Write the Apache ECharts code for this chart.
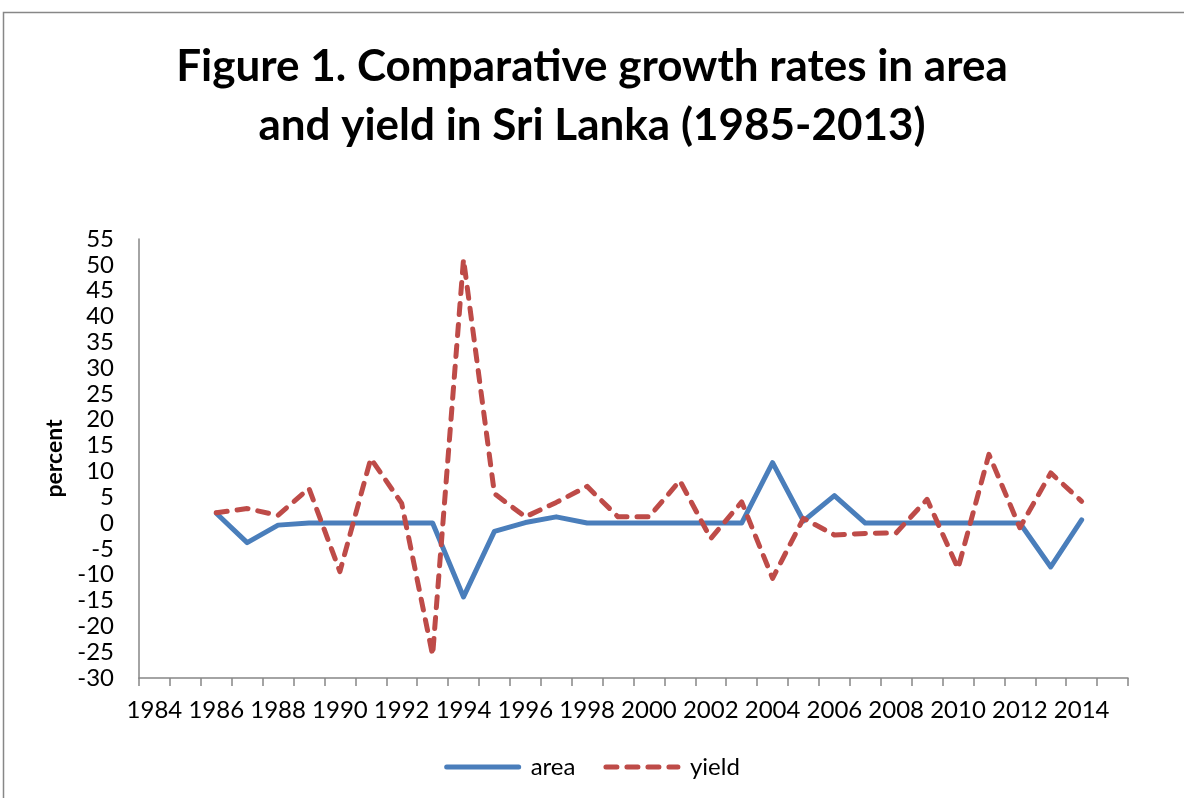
<!DOCTYPE html>
<html>
<head>
<meta charset="utf-8">
<script src="https://cdn.jsdelivr.net/npm/echarts@6/dist/echarts.min.js"></script>
<style>
  html, body { margin: 0; padding: 0; background: #fff; overflow: hidden; }
  #chart { width: 1184px; height: 798px; }
</style>
</head>
<body>
<div id="chart"></div>
<script>
var years = [];
for (var y = 1984; y <= 2015; y++) years.push(String(y));

// growth rates, 1986-2014 (null where no data)
var area = [null, null,
    1.9, -3.8, -0.4, 0, 0, 0, 0, 0, -14.3, -1.6, 0.1, 1.2, 0, 0, 0, 0, 0, 0,
    11.7, 0.4, 5.3, 0, 0, 0, 0, 0, 0, -8.5, 0.6, null];
var yieldRate = [null, null,
    2.0, 2.8, 1.5, 6.7, -9.4, 12.5, 3.8, -25.6, 51.1, 5.7, 1.2, 4.0, 7.1, 1.2, 1.2, 8.2, -3.0, 4.1,
    -10.7, 0.9, -2.3, -2.0, -1.9, 4.6, -8.8, 13.3, -0.9, 9.7, 4.2, null];

var font = 'Lato';
var dom = document.getElementById('chart');
var myChart = echarts.init(dom);

var option = {
    backgroundColor: '#fff',
    animation: false,
    title: {
        text: 'Figure 1. Comparative growth rates in area\nand yield in Sri Lanka (1985-2013)',
        left: 'center',
        top: 32,
        textStyle: {
            fontFamily: font,
            fontWeight: 'bold',
            fontSize: 44,
            lineHeight: 59,
            color: '#000'
        }
    },
    graphic: [{
        type: 'rect',
        shape: { x: 3.5, y: 12.5, width: 1300, height: 900 },
        style: { fill: 'none', stroke: '#878787', lineWidth: 1.5 },
        silent: true
    }],
    legend: {
        bottom: 14,
        left: 'center',
        itemWidth: 72,
        itemHeight: 14,
        itemGap: 28,
        itemStyle: { opacity: 0 },
        lineStyle: { width: 5 },
        textStyle: { fontFamily: font, fontSize: 24, color: '#000', padding: [0, 0, 0, 7] },
        data: ['area', 'yield']
    },
    grid: { left: 139, right: 56, top: 239, bottom: 120 },
    xAxis: {
        type: 'category',
        data: years,
        boundaryGap: true,
        axisLine: { onZero: false, lineStyle: { color: '#868686', width: 1.5 } },
        axisTick: { show: true, length: 8, interval: 0, lineStyle: { color: '#868686', width: 1.5 } },
        axisLabel: { interval: 1, margin: 20, fontFamily: font, fontSize: 24, color: '#000' },
        splitLine: { show: false }
    },
    yAxis: {
        type: 'value',
        min: -30,
        max: 55,
        interval: 5,
        name: 'percent',
        nameLocation: 'middle',
        nameGap: 72,
        nameTextStyle: { fontFamily: font, fontWeight: 'bold', fontSize: 23, color: '#000' },
        axisLine: { show: true, lineStyle: { color: '#868686', width: 1.5 } },
        axisTick: { show: false },
        axisLabel: { margin: 25, fontFamily: font, fontSize: 24, color: '#000' },
        splitLine: { show: false }
    },
    series: [
        {
            name: 'area',
            type: 'line',
            data: area,
            symbol: 'none',
            color: '#4A7EBB',
            lineStyle: { width: 5, color: '#4A7EBB', cap: 'round', join: 'round' }
        },
        {
            name: 'yield',
            type: 'line',
            data: yieldRate,
            symbol: 'none',
            color: '#BE4B48',
            lineStyle: { width: 5, color: '#BE4B48', type: [11, 10], cap: 'round', join: 'round' }
        }
    ]
};

myChart.setOption(option, true);
</script>
</body>
</html>
